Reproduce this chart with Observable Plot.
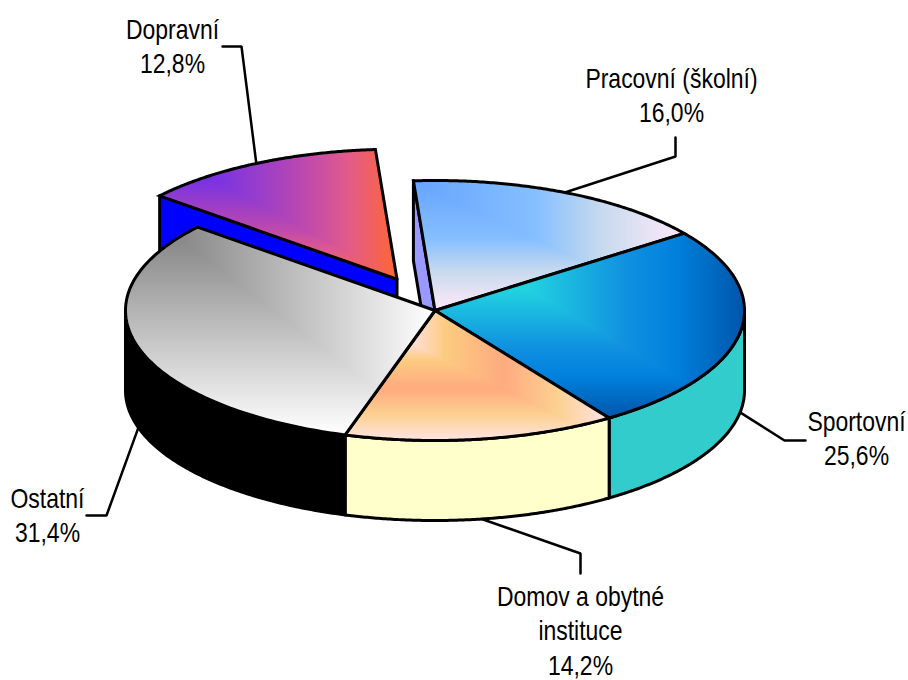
<!DOCTYPE html>
<html>
<head>
<meta charset="utf-8">
<style>html,body{margin:0;padding:0;background:#fff;overflow:hidden}svg{display:block}</style>
<script src="https://cdn.jsdelivr.net/npm/d3@7"></script>
<script src="https://cdn.jsdelivr.net/npm/@observablehq/plot@0.6"></script>
</head>
<body>
<div id="chart"></div>
<script>
// Data (clockwise, beginning at the cut just left of the top of the pie)
const categories = ["Pracovní (školní)", "Sportovní", "Domov a obytné\ninstituce", "Ostatní", "Dopravní"];
const shares = [16.0, 25.6, 14.2, 31.4, 12.8];
const exploded = [0, 0, 0, 0, 0.27];

// Gradient stops per slice: [offset, colour]
const stopsPracovni = [[0,"#66a3ff"],[0.45,"#85bfff"],[0.7,"#c8daee"],[0.9,"#eee4f6"],[1,"#f5e8f8"]];
const stopsSportovni = [[0,"#22d8e0"],[0.3,"#22d3e0"],[0.62,"#1090e0"],[0.78,"#0080dc"],[1,"#0055aa"]];
const stopsDomov = [[0,"#ffe0dc"],[0.27,"#ffdcd0"],[0.38,"#fccb80"],[0.6,"#ffaa80"],[0.8,"#fcd090"],[1,"#ffe4e4"]];
const stopsOstatni = [[0,"#707070"],[0.12,"#808080"],[1,"#ffffff"]];
const stopsDopravni = [[0,"#5522ff"],[0.28,"#8035dd"],[0.6,"#bb48b0"],[0.8,"#e35b88"],[1,"#ff6633"]];
const sliceStops = [stopsPracovni, stopsSportovni, stopsDomov, stopsOstatni, stopsDopravni];
const wallColors = ["#9999ff", "#33cccc", "#ffffcc", "#000000", "#0000ff"];

// Layout, in page pixels
const W = 908, H = 680;
const CX = 434.5, CY = 310, RX = 309.5, RY = 130, DEPTH = 80 / 130;
const START = -4;
const gradientBoxRaise = [0, 0, 0, 30, 0];
const leaderElbows = [[[675,156],[675,137]], [[784,440],[805,440]], [[580,553],[580,573]], [[106,515],[86,515]], [[241,46],[222,46]]];
const labelBaselines = [[671,87], [856,430], [580,605], [47,507], [172,38]];
const leaderOnWall = [false, true, true, true, false];
const TEXT_SQUEEZE = 0.82;

const FONT = "'Liberation Sans',Arial,sans-serif";
const rad = d => d * Math.PI / 180;
const ux = px => (px - CX) / RX;
const uy = py => (CY - py) / RY;

// Slice angles from the shares
const slices = [];
let a = START;
shares.forEach((s, i) => {
  const a1 = a + s * 3.6;
  const mid = (a + a1) / 2;
  slices.push({i, a0: a, a1, mid, ox: Math.sin(rad(mid)) * exploded[i], oy: Math.cos(rad(mid)) * exploded[i]});
  a = a1;
});
const onRim = (s, deg, drop = 0) => ({x: s.ox + Math.sin(rad(deg)), y: s.oy + Math.cos(rad(deg)) - drop});
const apex = (s, drop = 0) => ({x: s.ox, y: s.oy - drop});
const arc = (s, from, to, drop = 0) => d3.range(0, 121).map(k => onRim(s, from + (to - from) * k / 120, drop));
const topFace = s => { const p = apex(s); return [p, ...arc(s, s.a0, s.a1), p]; };
// outer wall of the part of the rim that faces the viewer
const rimWall = (s, from, to) => { const t = arc(s, from, to), b = arc(s, to, from, DEPTH); return [...t, ...b, t[0]]; };
// flat wall of a cut, seen when a neighbour is pulled away or ends
const cutWall = (s, deg) => { const r = onRim(s, deg), c = apex(s); return [r, c, apex(s, DEPTH), onRim(s, deg, DEPTH), r]; };

const face = (pts, fill, sw = 3) => Plot.line(pts, {x: "x", y: "y", fill, stroke: "#000", strokeWidth: sw, strokeLinejoin: "miter", strokeMiterlimit: 10});

// Corner gradients: colour follows max(u, v) in the slice's box
const NS = "http://www.w3.org/2000/svg";
function el(name, attrs, parent) {
  const e = document.createElementNS(NS, name);
  for (const k in attrs) e.setAttribute(k, attrs[k]);
  if (parent) parent.appendChild(e);
  return e;
}
function gradientDefs(index, {x, y}) {
  const defs = el("defs", {});
  slices.forEach((s, i) => {
    const pts = topFace(s);
    const x0 = d3.min(pts, p => x(p.x)), x1 = d3.max(pts, p => x(p.x));
    const y0 = d3.min(pts, p => y(p.y)) - gradientBoxRaise[i], y1 = d3.max(pts, p => y(p.y));
    const h = el("linearGradient", {id: `h${i}`, gradientUnits: "userSpaceOnUse", x1: x0, x2: x1, y1: 0, y2: 0}, defs);
    const v = el("linearGradient", {id: `v${i}`, gradientUnits: "userSpaceOnUse", x1: 0, x2: 0, y1: y0, y2: y1}, defs);
    for (const g of [h, v]) for (const [o, c] of sliceStops[i]) el("stop", {offset: o, "stop-color": c}, g);
    const pat = el("pattern", {id: `g${i}`, patternUnits: "userSpaceOnUse", x: 0, y: 0, width: W, height: H}, defs);
    el("rect", {x: 0, y: 0, width: W, height: H, fill: `url(#h${i})`}, pat);
    // everything below the box diagonal uses the vertical ramp
    const m = (y1 - y0) / (x1 - x0);
    const yl = y0 - m * x0, yr = y0 + m * (W - x0);
    el("polygon", {points: `0,${yl} ${W},${yr} ${W},${H + 2000} 0,${H + 2000}`, fill: `url(#v${i})`}, pat);
  });
  return defs;
}

const [sPrac, sSport, sDomov, sOst, sDop] = slices;
const fmt = s => s.toFixed(1).replace(".", ",") + "%";

const leaders = slices.map((s, i) => {
  const start = onRim(s, s.mid, leaderOnWall[i] ? DEPTH : 0);
  return [start, ...leaderElbows[i].map(([px, py]) => ({x: ux(px), y: uy(py)}))];
});
const labels = slices.map((s, i) => ({
  x: ux(labelBaselines[i][0]), y: uy(labelBaselines[i][1]),
  text: categories[i] + "\n" + fmt(shares[i])
}));

const chart = Plot.plot({
  width: W, height: H,
  marginTop: 0, marginRight: 0, marginBottom: 0, marginLeft: 0,
  x: {domain: [ux(0), ux(W)], range: [0, W], axis: null},
  y: {domain: [uy(0), uy(H)], range: [0, H], axis: null},
  style: {background: "#fff"},
  marks: [
    gradientDefs,
    ...leaders.map(l => Plot.line(l, {x: "x", y: "y", stroke: "#000", strokeWidth: 2.5, strokeLinejoin: "miter"})),
    face(cutWall(sDop, sDop.a0), wallColors[4]),
    face(topFace(sDop), "url(#g4)"),
    face(cutWall(sPrac, sPrac.a0), wallColors[0]),
    face(topFace(sPrac), "url(#g0)"),
    face(rimWall(sSport, 90, sSport.a1), wallColors[1]),
    face(rimWall(sDomov, sDomov.a0, sDomov.a1), wallColors[2]),
    face(rimWall(sOst, sOst.a0, 270), wallColors[3]),
    face(topFace(sSport), "url(#g1)"),
    face(topFace(sDomov), "url(#g2)"),
    face(topFace(sOst), "url(#g3)"),
    Plot.text(labels, {x: "x", y: "y", text: "text", fontSize: 28, fontFamily: FONT, fill: "#000",
      textAnchor: "middle", lineAnchor: "top", lineHeight: 1.24, dy: -24.5,
      render(index, scales, values, dimensions, context, next) {
        const g = next(index, scales, values, dimensions, context);
        g.querySelectorAll("text").forEach(t => {
          t.setAttribute("transform", `${t.getAttribute("transform") || ""} scale(${TEXT_SQUEEZE},1)`);
        });
        return g;
      }})
  ]
});
document.getElementById("chart").appendChild(chart);
</script>
</body>
</html>
